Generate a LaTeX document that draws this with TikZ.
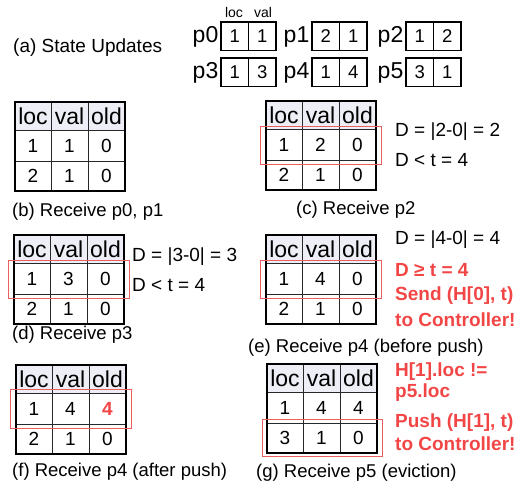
\documentclass[tikz,border=0pt]{standalone}
\usepackage{fontspec}
\setmainfont{Liberation Sans}
\definecolor{hl}{RGB}{242,70,70}
\definecolor{hlbox}{RGB}{236,95,95}
\definecolor{hdrbg}{RGB}{238,239,246}
\definecolor{gridc}{RGB}{40,40,40}
\tikzset{
  outerline/.style={line width=2.2pt,draw=black},
  innerline/.style={line width=1pt,draw=gridc},
  hdr/.style={inner sep=0pt,font=\fontsize{23}{23}\selectfont},
  cell/.style={inner sep=0pt,font=\fontsize{19}{19}\selectfont},
  caption/.style={inner sep=0pt,anchor=west,font=\fontsize{18.5}{18.5}\selectfont},
  note/.style={inner sep=0pt,anchor=west,font=\fontsize{19}{19}\selectfont},
  rednote/.style={inner sep=0pt,anchor=west,text=hl,font=\fontsize{19}{19}\selectfont\bfseries},
  redbox/.style={draw=hlbox,line width=0.9pt},
  plabel/.style={inner sep=0pt,anchor=east,font=\fontsize{23}{23}\selectfont},
  pcell/.style={inner sep=0pt,font=\fontsize{18.5}{18.5}\selectfont},
  pbox/.style={draw=black,line width=1.1pt},
  small/.style={inner sep=0pt,font=\fontsize{14}{14}\selectfont}
}
% #1 name, #2 x, #3 y, #4..#9 cells
\newcommand\histtable[9]{%
  \begin{scope}[shift={(#2,#3)}]
    \fill[hdrbg] (0,0) rectangle (110,28);
    \draw[innerline] (36,0) -- (36,89) (73,0) -- (73,89) (0,28) -- (110,28) (0,59) -- (110,59);
    \draw[outerline] (0,0) rectangle (110,89);
    \node[hdr] (#1-h1) at (18,14.5) {loc};
    \node[hdr] (#1-h2) at (54.5,14.5) {val};
    \node[hdr] (#1-h3) at (91.5,14.5) {old};
    \node[cell] (#1-a1) at (18,43.5) {#4};
    \node[cell] (#1-a2) at (54.5,43.5) {#5};
    \node[cell] (#1-a3) at (91.5,43.5) {#6};
    \node[cell] (#1-b1) at (18,74) {#7};
    \node[cell] (#1-b2) at (54.5,74) {#8};
    \node[cell] (#1-b3) at (91.5,74) {#9};
  \end{scope}}
% #1 name, #2 x, #3 y(top), #4 label, #5 loc, #6 val
\newcommand\pktbox[6]{%
  \begin{scope}[shift={(#2,#3)}]
    \draw[pbox] (0,0) rectangle (55,28.5);
    \draw[pbox] (27.5,0) -- (27.5,28.5);
    \node[plabel] (#1-l) at (-2.5,14.5) {#4};
    \node[pcell] (#1-c1) at (13.75,14.5) {#5};
    \node[pcell] (#1-c2) at (41.25,14.5) {#6};
  \end{scope}}
\begin{document}
\begin{tikzpicture}[x=1pt,y=-1pt]
\useasboundingbox (0,0) rectangle (525,493);
% (a)
\node[caption,font=\fontsize{19}{19}\selectfont] (capa) at (13,48) {(a) State Updates};
\node[small] (lloc) at (234,12) {loc};
\node[small] (lval) at (263,12) {val};
\pktbox{p0}{221}{22}{p0}{1}{1}
\pktbox{p1}{312}{22}{p1}{2}{1}
\pktbox{p2}{406}{22}{p2}{1}{2}
\pktbox{p3}{221}{58}{p3}{1}{3}
\pktbox{p4}{312}{58}{p4}{1}{4}
\pktbox{p5}{406}{58}{p5}{3}{1}
% (b)
\histtable{tb}{15}{102}{1}{1}{0}{2}{1}{0}
\node[caption] (capb) at (12,212) {(b) Receive p0, p1};
% (c)
\histtable{tc}{266}{101}{1}{2}{0}{2}{1}{0}
\draw[redbox] (260,126) rectangle (381,164);
\node[note] (nc1) at (395,132) {D = |2-0| = 2};
\node[note] (nc2) at (395,160) {D < t = 4};
\node[caption] (capc) at (296,210) {(c) Receive p2};
% (d)
\histtable{td}{14}{235}{1}{3}{0}{2}{1}{0}
\draw[redbox] (8,260) rectangle (129,298);
\node[note] (nd1) at (132,257) {D = |3-0| = 3};
\node[note] (nd2) at (132,285) {D < t = 4};
\node[caption] (capd) at (12,335) {(d) Receive p3};
% (e)
\histtable{te}{266}{235}{1}{4}{0}{2}{1}{0}
\draw[redbox] (260,260) rectangle (381,298);
\node[note] (ne1) at (395,240) {D = |4-0| = 4};
\node[rednote] (ne2) at (395,270) {D ≥ t = 4};
\node[rednote] (ne3) at (395,296) {Send (H[0], t)};
\node[rednote] (ne4) at (395,320) {to Controller!};
\node[caption] (cape) at (248,348) {(e) Receive p4 (before push)};
% (f)
\histtable{tf}{16}{365}{1}{4}{\textcolor{hl}{\bfseries 4}}{2}{1}{0}
\draw[redbox] (10,389) rectangle (131,428);
\node[caption] (capf) at (12,472) {(f) Receive p4 (after push)};
% (g)
\histtable{tg}{267}{364}{1}{4}{4}{3}{1}{0}
\draw[redbox] (262,419) rectangle (382,456);
\node[rednote] (ng1) at (395,372) {H[1].loc !=};
\node[rednote] (ng2) at (395,393) {p5.loc};
\node[rednote] (ng3) at (395,423) {Push (H[1], t)};
\node[rednote] (ng4) at (395,444) {to Controller!};
\node[caption] (capg) at (256,473) {(g) Receive p5 (eviction)};
\end{tikzpicture}
\end{document}
